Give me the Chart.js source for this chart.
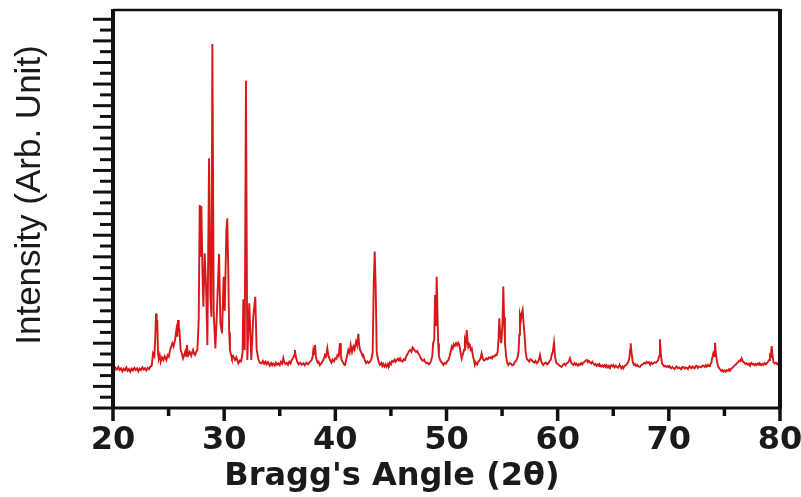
<!DOCTYPE html>
<html>
<head>
<meta charset="utf-8">
<script src="https://cdn.jsdelivr.net/npm/chart.js@4.4.1/dist/chart.umd.min.js"></script>
<style>
  html, body { margin: 0; padding: 0; background: #fff; }
  #wrap { width: 801px; height: 497px; position: relative; }
</style>
</head>
<body>
<div id="wrap"><canvas id="xrd"></canvas></div>
<script>
// XRD pattern (intensity in arbitrary units), 10 values per row
const twoTheta = [
  20.00, 20.12, 20.24, 20.36, 20.48, 20.60, 20.72, 20.84, 20.96, 21.08,
  21.20, 21.32, 21.44, 21.56, 21.68, 21.80, 21.92, 22.04, 22.16, 22.28,
  22.40, 22.52, 22.64, 22.76, 22.88, 23.00, 23.12, 23.24, 23.36, 23.48,
  23.60, 23.72, 23.80, 23.87, 23.93, 23.98, 24.05, 24.12, 24.20, 24.29,
  24.40, 24.53, 24.65, 24.80, 24.92, 25.02, 25.10, 25.20, 25.34, 25.45,
  25.58, 25.70, 25.78, 25.85, 25.92, 25.97, 26.09, 26.20, 26.30, 26.40,
  26.50, 26.58, 26.65, 26.72, 26.77, 26.90, 27.04, 27.12, 27.20, 27.30,
  27.38, 27.50, 27.59, 27.71, 27.80, 27.88, 27.95, 28.05, 28.13, 28.25,
  28.37, 28.49, 28.64, 28.76, 28.85, 28.94, 29.06, 29.21, 29.33, 29.54,
  29.66, 29.81, 29.95, 30.05, 30.20, 30.28, 30.36, 30.45, 30.52, 30.62,
  30.70, 30.82, 30.97, 31.10, 31.27, 31.40, 31.50, 31.58, 31.66, 31.72,
  31.80, 31.85, 31.96, 32.08, 32.26, 32.44, 32.62, 32.80, 32.92, 33.10,
  33.20, 33.37, 33.48, 33.60, 33.72, 33.82, 33.95, 34.10, 34.22, 34.32,
  34.42, 34.55, 34.65, 34.76, 34.87, 35.00, 35.10, 35.22, 35.32, 35.40,
  35.50, 35.62, 35.74, 35.85, 35.96, 36.07, 36.20, 36.30, 36.37, 36.45,
  36.58, 36.70, 36.85, 36.98, 37.12, 37.25, 37.40, 37.55, 37.72, 37.85,
  37.95, 38.02, 38.10, 38.17, 38.25, 38.32, 38.42, 38.50, 38.60, 38.68,
  38.80, 38.90, 39.00, 39.07, 39.17, 39.28, 39.36, 39.46, 39.55, 39.65,
  39.76, 39.88, 40.00, 40.10, 40.18, 40.30, 40.42, 40.50, 40.57, 40.70,
  40.80, 40.87, 40.96, 41.05, 41.17, 41.28, 41.38, 41.50, 41.62, 41.72,
  41.86, 41.96, 42.07, 42.14, 42.22, 42.35, 42.45, 42.52, 42.65, 42.76,
  42.90, 43.00, 43.12, 43.24, 43.36, 43.45, 43.54, 43.63, 43.72, 43.82,
  43.92, 44.02, 44.14, 44.22, 44.30, 44.42, 44.52, 44.62, 44.74, 44.82,
  44.90, 45.00, 45.10, 45.22, 45.34, 45.42, 45.50, 45.62, 45.72, 45.82,
  45.92, 46.05, 46.15, 46.27, 46.38, 46.50, 46.60, 46.72, 46.85, 46.95,
  47.02, 47.12, 47.25, 47.35, 47.47, 47.60, 47.75, 47.88, 48.00, 48.07,
  48.18, 48.30, 48.42, 48.52, 48.62, 48.72, 48.80, 48.90, 48.97, 49.05,
  49.12, 49.18, 49.25, 49.32, 49.45, 49.58, 49.72, 49.82, 49.95, 50.05,
  50.17, 50.28, 50.38, 50.47, 50.56, 50.65, 50.75, 50.86, 50.96, 51.06,
  51.16, 51.26, 51.37, 51.48, 51.58, 51.66, 51.74, 51.82, 51.90, 51.96,
  52.04, 52.10, 52.18, 52.27, 52.38, 52.48, 52.56, 52.66, 52.76, 52.86,
  52.96, 53.06, 53.16, 53.26, 53.36, 53.46, 53.58, 53.70, 53.80, 53.91,
  54.02, 54.10, 54.20, 54.32, 54.42, 54.51, 54.60, 54.68, 54.75, 54.82,
  54.90, 54.96, 55.04, 55.11, 55.18, 55.26, 55.36, 55.46, 55.56, 55.68,
  55.80, 55.90, 56.01, 56.12, 56.25, 56.37, 56.48, 56.55, 56.61, 56.70,
  56.78, 56.85, 56.94, 57.03, 57.12, 57.21, 57.32, 57.45, 57.55, 57.66,
  57.78, 57.90, 58.00, 58.11, 58.22, 58.32, 58.41, 58.50, 58.60, 58.71,
  58.82, 58.95, 59.05, 59.16, 59.28, 59.38, 59.46, 59.56, 59.67, 59.76,
  59.85, 59.96, 60.10, 60.22, 60.36, 60.48, 60.60, 60.70, 60.81, 60.92,
  61.02, 61.11, 61.20, 61.30, 61.41, 61.52, 61.62, 61.70, 61.82, 61.92,
  62.01, 62.12, 62.22, 62.30, 62.42, 62.52, 62.61, 62.72, 62.80, 62.90,
  63.02, 63.12, 63.21, 63.32, 63.42, 63.50, 63.62, 63.72, 63.80, 63.92,
  64.02, 64.11, 64.22, 64.32, 64.40, 64.52, 64.62, 64.70, 64.82, 64.92,
  65.01, 65.12, 65.22, 65.30, 65.42, 65.52, 65.60, 65.72, 65.82, 65.91,
  66.02, 66.12, 66.20, 66.30, 66.36, 66.45, 66.52, 66.57, 66.64, 66.75,
  66.85, 66.95, 67.05, 67.15, 67.28, 67.41, 67.52, 67.62, 67.70, 67.82,
  67.92, 68.01, 68.12, 68.22, 68.30, 68.42, 68.52, 68.61, 68.72, 68.85,
  68.95, 69.05, 69.12, 69.20, 69.28, 69.38, 69.48, 69.58, 69.70, 69.80,
  69.92, 70.02, 70.10, 70.22, 70.32, 70.40, 70.52, 70.62, 70.70, 70.82,
  70.92, 71.00, 71.12, 71.22, 71.30, 71.42, 71.52, 71.60, 71.72, 71.82,
  71.90, 72.02, 72.12, 72.20, 72.32, 72.42, 72.50, 72.62, 72.72, 72.80,
  72.92, 73.02, 73.10, 73.22, 73.32, 73.40, 73.52, 73.62, 73.70, 73.82,
  73.90, 74.00, 74.07, 74.15, 74.24, 74.36, 74.46, 74.60, 74.72, 74.82,
  74.90, 75.02, 75.12, 75.20, 75.32, 75.42, 75.50, 75.62, 75.72, 75.80,
  75.92, 76.02, 76.10, 76.22, 76.35, 76.45, 76.55, 76.65, 76.80, 76.90,
  77.00, 77.12, 77.22, 77.30, 77.42, 77.52, 77.60, 77.72, 77.82, 77.90,
  78.02, 78.12, 78.20, 78.32, 78.42, 78.50, 78.62, 78.72, 78.80, 78.92,
  79.02, 79.10, 79.18, 79.25, 79.32, 79.40, 79.50, 79.65, 79.75, 79.85,
  80.00
];
const intensity = [
  1.84, 1.72, 1.86, 1.78, 1.90, 1.76, 1.84, 1.70, 1.82, 1.74,
  1.88, 1.72, 1.80, 1.68, 1.82, 1.74, 1.86, 1.76, 1.84, 1.70,
  1.82, 1.76, 1.88, 1.78, 1.84, 1.74, 1.86, 1.80, 1.92, 1.95,
  2.53, 2.40, 3.20, 4.38, 3.90, 4.07, 2.50, 2.30, 2.45, 2.14,
  2.35, 2.22, 2.40, 2.22, 2.45, 2.38, 2.59, 2.80, 3.00, 2.85,
  3.15, 3.61, 3.30, 4.07, 3.70, 3.61, 2.69, 2.50, 2.30, 2.45,
  2.61, 2.40, 2.92, 2.55, 2.45, 2.60, 2.42, 2.58, 2.69, 2.50,
  2.45, 2.62, 2.69, 4.07, 9.40, 7.00, 9.35, 6.20, 4.69, 7.16,
  5.62, 2.92, 11.56, 5.15, 4.23, 16.85, 4.38, 2.76, 4.23, 7.13,
  3.92, 3.46, 6.08, 4.50, 8.20, 8.78, 6.70, 3.50, 2.69, 2.45,
  2.30, 2.40, 2.22, 2.35, 2.07, 2.20, 2.15, 2.30, 2.60, 5.03,
  3.00, 2.69, 15.15, 2.22, 4.85, 2.22, 4.23, 5.15, 2.69, 2.22,
  2.10, 2.07, 2.18, 2.05, 2.14, 2.02, 2.12, 1.96, 2.08, 1.98,
  2.06, 1.96, 2.10, 2.00, 2.07, 1.98, 2.14, 2.05, 2.30, 2.12,
  2.04, 2.10, 2.00, 2.14, 2.06, 2.22, 2.30, 2.45, 2.69, 2.35,
  2.14, 2.02, 2.10, 2.00, 2.07, 1.98, 2.10, 2.02, 2.14, 2.20,
  2.35, 2.69, 2.50, 2.92, 2.40, 2.22, 2.10, 2.14, 1.98, 2.02,
  2.12, 2.20, 2.35, 2.45, 2.40, 2.76, 2.45, 2.30, 2.20, 2.10,
  2.24, 2.16, 2.30, 2.28, 2.45, 2.40, 3.00, 2.45, 2.22, 2.10,
  2.00, 1.99, 2.20, 2.40, 2.69, 2.55, 2.92, 2.60, 2.84, 2.70,
  3.07, 2.90, 3.43, 2.95, 2.69, 2.55, 2.40, 2.45, 2.20, 2.07,
  2.16, 2.08, 2.14, 2.25, 2.61, 5.62, 7.24, 5.62, 2.61, 2.30,
  2.10, 2.00, 2.08, 1.95, 2.05, 1.92, 2.02, 1.91, 2.04, 1.98,
  2.10, 2.02, 2.18, 2.14, 2.24, 2.14, 2.20, 2.28, 2.20, 2.30,
  2.18, 2.15, 2.26, 2.22, 2.40, 2.50, 2.62, 2.69, 2.60, 2.80,
  2.76, 2.68, 2.60, 2.64, 2.53, 2.40, 2.25, 2.18, 2.24, 2.14,
  2.08, 2.10, 2.02, 2.07, 2.20, 2.40, 3.00, 3.20, 5.23, 3.80,
  6.08, 4.60, 3.00, 2.38, 2.20, 2.10, 1.99, 2.08, 2.05, 2.15,
  2.22, 2.40, 2.60, 2.84, 2.76, 2.95, 2.88, 3.00, 2.90, 3.02,
  2.92, 2.60, 2.30, 2.50, 2.70, 3.15, 3.00, 3.61, 3.10, 2.84,
  2.96, 2.90, 2.70, 2.76, 2.40, 2.20, 1.99, 2.08, 2.02, 2.14,
  2.20, 2.30, 2.53, 2.30, 2.20, 2.22, 2.30, 2.25, 2.34, 2.30,
  2.36, 2.30, 2.40, 2.38, 2.46, 2.45, 2.60, 3.20, 4.15, 3.50,
  3.00, 3.20, 4.00, 5.62, 4.20, 3.00, 2.40, 2.10, 1.99, 2.08,
  2.05, 1.98, 1.99, 2.10, 2.18, 2.30, 2.60, 3.40, 4.31, 4.10,
  4.40, 4.54, 3.90, 3.30, 2.60, 2.30, 2.22, 2.15, 2.26, 2.22,
  2.14, 2.10, 2.18, 2.07, 2.12, 2.25, 2.45, 2.20, 2.06, 1.99,
  2.08, 2.10, 2.02, 2.07, 2.18, 2.24, 2.45, 2.60, 3.02, 2.40,
  2.14, 2.05, 2.00, 1.94, 1.91, 2.00, 2.05, 1.98, 2.07, 2.10,
  2.18, 2.30, 2.12, 2.05, 1.99, 2.08, 2.00, 2.05, 1.96, 2.04,
  1.99, 2.08, 2.02, 2.10, 2.14, 2.20, 2.22, 2.12, 2.18, 2.12,
  2.06, 2.14, 2.07, 2.00, 2.04, 1.95, 2.02, 1.94, 2.00, 1.92,
  1.98, 1.91, 1.99, 1.90, 1.98, 1.88, 1.96, 1.90, 1.98, 1.92,
  1.99, 1.88, 1.96, 1.92, 1.86, 1.95, 1.96, 1.84, 1.92, 1.84,
  1.95, 1.98, 2.00, 2.10, 2.14, 2.30, 2.70, 3.00, 2.60, 2.14,
  2.00, 2.04, 1.95, 2.00, 1.92, 1.91, 1.98, 2.02, 2.05, 2.10,
  2.06, 2.14, 2.08, 2.12, 2.05, 2.10, 2.04, 2.07, 2.12, 2.10,
  2.16, 2.22, 2.40, 3.18, 2.50, 2.07, 2.00, 1.92, 1.95, 1.90,
  1.94, 1.88, 1.91, 1.84, 1.90, 1.86, 1.80, 1.88, 1.92, 1.84,
  1.88, 1.84, 1.80, 1.90, 1.90, 1.82, 1.88, 1.86, 1.80, 1.90,
  1.91, 1.84, 1.92, 1.88, 1.84, 1.94, 1.95, 1.86, 1.92, 1.91,
  1.88, 1.96, 1.96, 1.90, 1.98, 1.92, 2.00, 1.94, 1.99, 2.10,
  2.30, 2.53, 2.40, 3.02, 2.50, 2.07, 1.90, 1.80, 1.72, 1.76,
  1.68, 1.74, 1.68, 1.75, 1.72, 1.80, 1.76, 1.82, 1.86, 1.90,
  1.98, 2.00, 2.07, 2.12, 2.20, 2.18, 2.30, 2.16, 2.10, 2.04,
  2.07, 2.00, 2.06, 2.00, 2.08, 2.02, 2.05, 1.98, 2.04, 1.99,
  2.06, 2.00, 2.05, 1.98, 2.04, 2.00, 2.08, 2.02, 2.07, 2.14,
  2.22, 2.45, 2.40, 2.87, 2.50, 2.14, 2.06, 2.10, 2.02, 2.07,
  2.13
];
const xTicks = [20, 30, 40, 50, 60, 70, 80];
const xTitle = "Bragg's Angle (2θ)";
const yTitle = 'Intensity (Arb. Unit)';

const X_MIN = 20, X_MAX = 80, Y_MIN = 0, Y_MAX = 18.43;

// ticks, frame and axis titles
const framePlugin = {
  id: 'frame',
  afterDraw(chart) {
    const ctx = chart.ctx;
    const a = chart.chartArea;
    const sx = chart.scales.x, sy = chart.scales.y;
    ctx.save();
    ctx.strokeStyle = '#111';
    ctx.lineCap = 'butt';

    // x ticks (major every 10, minor every 5), pointing out
    ctx.lineWidth = 3.5;
    for (let v = X_MIN; v <= X_MAX; v += 5) {
      const px = sx.getPixelForValue(v);
      const len = v % 10 === 0 ? 13 : 8;
      ctx.beginPath();
      ctx.moveTo(px, a.bottom);
      ctx.lineTo(px, a.bottom + len);
      ctx.stroke();
    }
    // y ticks (major every 1, minor every 0.5)
    ctx.lineWidth = 3;
    for (let i = 0; i <= 36; i++) {
      const py = sy.getPixelForValue(i * 0.5);
      const len = i % 2 === 0 ? 20 : 13;
      ctx.beginPath();
      ctx.moveTo(a.left, py);
      ctx.lineTo(a.left - len, py);
      ctx.stroke();
    }

    // frame
    ctx.lineWidth = 4;
    ctx.beginPath();
    ctx.moveTo(a.left, a.top - 1); ctx.lineTo(a.left, a.bottom + 1);
    ctx.moveTo(a.right, a.top - 1); ctx.lineTo(a.right, a.bottom + 1);
    ctx.stroke();
    ctx.lineWidth = 2.5;
    ctx.beginPath();
    ctx.moveTo(a.left, a.top); ctx.lineTo(a.right, a.top);
    ctx.stroke();
    ctx.lineWidth = 3;
    ctx.beginPath();
    ctx.moveTo(a.left, a.bottom); ctx.lineTo(a.right, a.bottom);
    ctx.stroke();

    // titles
    ctx.fillStyle = '#1a1a1a';
    ctx.textAlign = 'center';
    ctx.textBaseline = 'middle';
    ctx.font = 'bold 32px "DejaVu Sans"';
    ctx.fillText(xTitle, 392, 477);
    ctx.translate(30, 195);
    ctx.rotate(-Math.PI / 2);
    ctx.font = '35px "Liberation Sans"';
    ctx.fillText(yTitle, 0, 0);
    ctx.restore();
  }
};

new Chart(document.getElementById('xrd'), {
  type: 'line',
  data: {
    datasets: [{
      data: twoTheta.map((t, i) => ({ x: t, y: intensity[i] })),
      borderColor: '#d81818',
      borderWidth: 1.9,
      pointRadius: 0,
      tension: 0,
      fill: false
    }]
  },
  options: {
    responsive: true, maintainAspectRatio: false, animation: false,
    layout: { padding: { left: 0, right: 21, top: 10, bottom: 0 } },
    plugins: { legend: { display: false }, tooltip: { enabled: false } },
    scales: {
      x: {
        type: 'linear', min: X_MIN, max: X_MAX,
        afterBuildTicks: s => { s.ticks = xTicks.map(v => ({ value: v })); },
        ticks: { color: '#1a1a1a', padding: 13, maxRotation: 0, font: { family: 'DejaVu Sans', size: 32, weight: 'bold' } },
        grid: { display: false, drawTicks: false },
        border: { display: false },
        afterFit: s => { s.height = 89; s.paddingLeft = 0; s.paddingRight = 0; }
      },
      y: {
        type: 'linear', min: Y_MIN, max: Y_MAX,
        ticks: { display: false },
        grid: { display: false, drawTicks: false },
        border: { display: false },
        afterFit: s => { s.width = 113; s.paddingTop = 0; s.paddingBottom = 0; }
      }
    }
  },
  plugins: [framePlugin]
});
</script>
</body>
</html>
